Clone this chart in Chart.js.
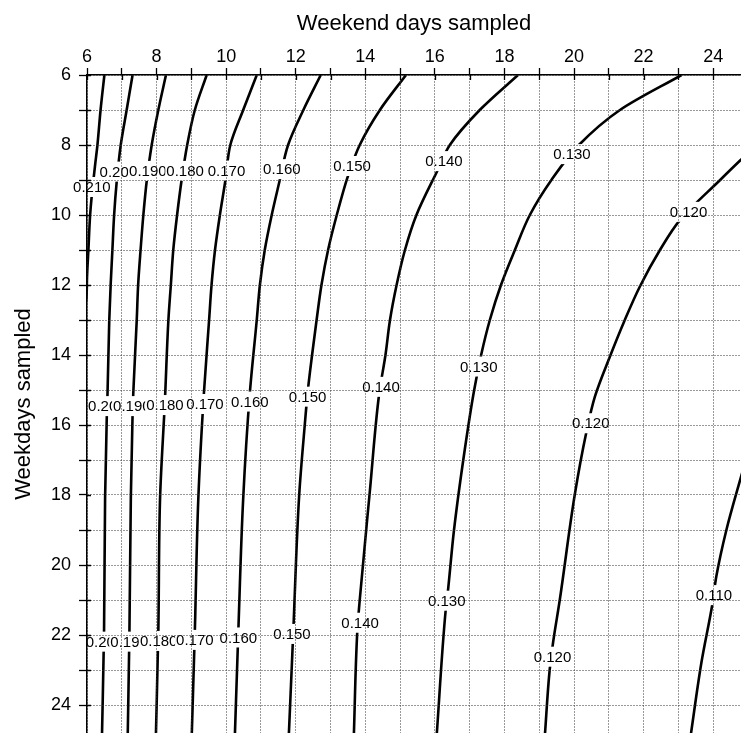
<!DOCTYPE html>
<html>
<head>
<meta charset="utf-8">
<title>Contours: weekend vs weekday days sampled</title>
<script src="https://cdn.jsdelivr.net/npm/chart.js@4/dist/chart.umd.min.js"></script>
<style>
  html, body { margin: 0; padding: 0; background: #fff; }
  #wrap { position: relative; width: 741px; height: 733px; }
</style>
</head>
<body>
<div id="wrap"><canvas id="chart"></canvas></div>
<script>
// contour levels, highest (left) to lowest (right)
const levels = ['0.210', '0.200', '0.190', '0.180', '0.170', '0.160', '0.150', '0.140', '0.130', '0.120', '0.110']

// each contour as [weekend days, weekdays] pairs, ordered by weekdays
const line210 = [[6.5, 6], [6.39, 7], [6.3, 8], [6.23, 8.6], [6.135, 9.47], [6.09, 10], [6.04, 11], [6.0, 11.8], [5.98, 12.4], [5.8, 13.2]]
const line200 = [[7.31, 6], [7.14, 7], [6.97, 8], [6.85, 9.09], [6.78, 10], [6.73, 11], [6.68, 12], [6.64, 13], [6.59, 15.1], [6.57, 15.7], [6.52, 18.1], [6.49, 21.9], [6.43, 24.9]]
const line190 = [[8.27, 6], [8.05, 7], [7.86, 8], [7.72, 9.0], [7.62, 10], [7.54, 11], [7.47, 12], [7.43, 13], [7.33, 15.1], [7.31, 15.7], [7.26, 18.1], [7.22, 21.9], [7.17, 24.9]]
const line180 = [[9.44, 6], [9.1, 7], [8.88, 8], [8.72, 9.0], [8.59, 10], [8.48, 11], [8.41, 12], [8.34, 13], [8.24, 15.3], [8.1, 18.1], [8.05, 21.9], [7.98, 24.9]]
const line170 = [[10.88, 6], [10.49, 7], [10.12, 8], [9.98, 9.0], [9.82, 10], [9.68, 11], [9.58, 12], [9.51, 13], [9.36, 15.1], [9.2, 18.1], [9.1, 21.9], [9.01, 24.9]]
const line160 = [[12.72, 6], [12.22, 7], [11.78, 8], [11.53, 9.05], [11.31, 10], [11.11, 11], [10.97, 12], [10.88, 13], [10.68, 15.1], [10.49, 18.1], [10.35, 21.9], [10.25, 24.9]]
const line150 = [[15.17, 6], [14.42, 7], [13.84, 8], [13.51, 8.86], [13.18, 10], [12.93, 11], [12.74, 12], [12.6, 13], [12.47, 14], [12.35, 15], [12.26, 16], [12.1, 18], [11.93, 21.9], [11.8, 24.9]]
const line140 = [[18.39, 6], [17.29, 7], [16.43, 8], [16.09, 8.7], [15.47, 10], [15.14, 11], [14.9, 12], [14.71, 13], [14.58, 14], [14.4, 15.1], [14.13, 17.9], [13.84, 21], [13.77, 21.9], [13.67, 24.9]]
const line130 = [[23.09, 6], [21.32, 7], [20.14, 8], [19.35, 9], [18.73, 10], [18.3, 11], [17.9, 12], [17.58, 13], [17.33, 14], [17.13, 15], [16.86, 16.7], [16.55, 19], [16.38, 20.7], [16.31, 21.3], [16.05, 24.9]]
const line120 = [[25.4, 7.86], [24.79, 8.43], [24.2, 9], [23.05, 10.14], [22.47, 11], [21.89, 12.05], [21.46, 13], [21.03, 14.05], [20.6, 15.19], [20.35, 16.23], [20.02, 18], [19.59, 21], [19.4, 22.2], [19.3, 23], [19.16, 24.9]]
const line110 = [[25.2, 16.1], [24.79, 17.52], [24.38, 19], [24.09, 20.33], [23.98, 21.1], [23.66, 22.8], [23.35, 24.9]]

const contours = [line210, line200, line190, line180, line170, line160, line150, line140, line130, line120, line110]

// inline label anchors: [text, weekend days, weekdays]
const labelSpots = [
    ['0.210', 6.14, 9.2], ['0.200', 6.9, 8.76], ['0.190', 7.75, 8.74], ['0.180', 8.82, 8.74],
    ['0.170', 10.01, 8.73], ['0.160', 11.6, 8.69], ['0.150', 13.62, 8.6], ['0.140', 16.26, 8.46],
    ['0.130', 19.94, 8.26], ['0.120', 23.29, 9.91],
    ['0.200', 6.57, 15.46], ['0.190', 7.29, 15.46], ['0.180', 8.24, 15.43], ['0.170', 9.39, 15.4],
    ['0.160', 10.68, 15.33], ['0.150', 12.34, 15.19], ['0.140', 14.45, 14.91], ['0.130', 17.26, 14.33],
    ['0.120', 20.48, 15.95],
    ['0.200', 6.5, 22.19], ['0.190', 7.21, 22.19], ['0.180', 8.06, 22.17], ['0.170', 9.1, 22.14],
    ['0.160', 10.35, 22.07], ['0.150', 11.89, 21.97], ['0.140', 13.85, 21.65], ['0.130', 16.34, 21.02],
    ['0.120', 19.38, 22.62], ['0.110', 24.02, 20.86]
]

const axisMin = 6
const axisMax = 24.8

const FONT = '"Liberation Sans", Arial, Helvetica, sans-serif'

// draws the level labels on white patches over the lines
const contourLabels = {
    id: 'contourLabels',
    afterDatasetsDraw(chart) {
        const { ctx, scales: { x, y } } = chart
        ctx.save()
        ctx.font = `15px ${FONT}`
        ctx.textAlign = 'center'
        ctx.textBaseline = 'middle'
        labelSpots.forEach(([text, vx, vy]) => {
            const px = x.getPixelForValue(vx)
            const py = y.getPixelForValue(vy)
            const w = ctx.measureText(text).width + 2
            ctx.fillStyle = '#fff'
            ctx.fillRect(px - w / 2, py - 10, w, 20)
            ctx.fillStyle = '#000'
            ctx.fillText(text, px, py + 1)
        })
        ctx.restore()
    },
    // short tick marks pointing into the plot
    afterDraw(chart) {
        const { ctx, chartArea: area, scales: { x, y } } = chart
        ctx.save()
        ctx.strokeStyle = '#000'
        ctx.lineWidth = 1.3
        ctx.beginPath()
        x.ticks.forEach(t => {
            const px = Math.round(x.getPixelForValue(t.value)) + 0.5
            ctx.moveTo(px, area.top)
            ctx.lineTo(px, area.top + 5)
        })
        y.ticks.forEach(t => {
            const py = Math.round(y.getPixelForValue(t.value)) + 0.5
            ctx.moveTo(area.left, py)
            ctx.lineTo(area.left + 4, py)
        })
        ctx.stroke()
        ctx.restore()
    }
}

const evenOnly = v => (v % 2 === 0 ? v : '')

const gridOpts = {
    z: 1,
    color: '#333',
    lineWidth: 1,
    tickColor: '#000',
    tickWidth: 1.3
}

const borderOpts = { display: true, z: 1, color: '#000', width: 1.5, dash: [1, 2] }

new Chart(document.getElementById('chart'), {
    type: 'line',
    data: {
        datasets: contours.map((pts, i) => ({
            label: levels[i],
            data: pts.map(([x, y]) => ({ x, y })),
            borderColor: '#000',
            borderWidth: 2.6,
            pointRadius: 0,
            fill: false,
            cubicInterpolationMode: 'monotone'
        }))
    },
    options: {
        indexAxis: 'y',
        responsive: true,
        maintainAspectRatio: false,
        animation: false,
        layout: { padding: 0 },
        plugins: {
            legend: { display: false },
            tooltip: { enabled: false }
        },
        scales: {
            x: {
                type: 'linear',
                position: 'top',
                min: axisMin,
                max: axisMax,
                grid: { ...gridOpts, tickLength: 7 },
                border: borderOpts,
                ticks: {
                    stepSize: 1,
                    includeBounds: false,
                    autoSkip: false,
                    maxRotation: 0,
                    padding: 0,
                    color: '#000',
                    font: { family: FONT, size: 18 },
                    callback: evenOnly
                },
                title: {
                    display: true,
                    text: 'Weekend days sampled',
                    color: '#000',
                    font: { family: FONT, size: 22 },
                    padding: { top: 11, bottom: 0 }
                },
                afterFit: scale => {
                    scale.height = 75
                    scale.paddingLeft = 0
                    scale.paddingRight = 0
                }
            },
            y: {
                type: 'linear',
                position: 'left',
                reverse: true,
                min: axisMin,
                max: axisMax,
                grid: { ...gridOpts, tickLength: 8 },
                border: borderOpts,
                ticks: {
                    stepSize: 1,
                    includeBounds: false,
                    autoSkip: false,
                    padding: 8,
                    color: '#000',
                    font: { family: FONT, size: 18 },
                    callback: evenOnly
                },
                title: {
                    display: true,
                    text: 'Weekdays sampled',
                    color: '#000',
                    font: { family: FONT, size: 22 },
                    padding: { top: 11, bottom: 0 }
                },
                afterFit: scale => {
                    scale.width = 87
                    scale.paddingTop = 0
                    scale.paddingBottom = 0
                }
            }
        }
    },
    plugins: [contourLabels]
})
</script>
</body>
</html>
